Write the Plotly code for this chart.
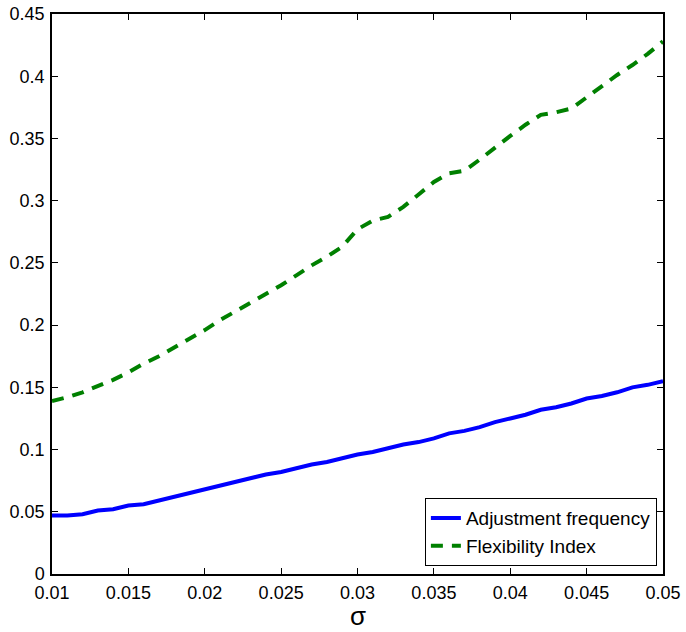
import plotly.graph_objects as go

# sigma grid
sigma = [0.010, 0.011, 0.012, 0.013, 0.014, 0.015, 0.016, 0.017, 0.018, 0.019,
         0.020, 0.021, 0.022, 0.023, 0.024, 0.025, 0.026, 0.027, 0.028, 0.029,
         0.030, 0.031, 0.032, 0.033, 0.034, 0.035, 0.036, 0.037, 0.038, 0.039,
         0.040, 0.041, 0.042, 0.043, 0.044, 0.045, 0.046, 0.047, 0.048, 0.049,
         0.050]

adjustment_frequency = [0.047, 0.047, 0.048, 0.051, 0.052, 0.055, 0.056, 0.059, 0.062, 0.065,
                        0.068, 0.071, 0.074, 0.077, 0.080, 0.082, 0.085, 0.088, 0.090, 0.093,
                        0.096, 0.098, 0.101, 0.104, 0.106, 0.109, 0.113, 0.115, 0.118, 0.122,
                        0.125, 0.128, 0.132, 0.134, 0.137, 0.141, 0.143, 0.146, 0.150, 0.152,
                        0.155]

flexibility_index = [0.139, 0.142, 0.146, 0.151, 0.156, 0.162, 0.169, 0.175, 0.182, 0.189,
                     0.196, 0.204, 0.211, 0.218, 0.225, 0.232, 0.240, 0.248, 0.255, 0.263,
                     0.277, 0.284, 0.287, 0.295, 0.305, 0.315, 0.322, 0.324, 0.333, 0.343,
                     0.352, 0.361, 0.369, 0.371, 0.374, 0.383, 0.392, 0.401, 0.409, 0.418,
                     0.428]

x_ticks = [0.01, 0.015, 0.02, 0.025, 0.03, 0.035, 0.04, 0.045, 0.05]
x_tick_text = ["0.01", "0.015", "0.02", "0.025", "0.03", "0.035", "0.04", "0.045", "0.05"]
y_ticks = [0, 0.05, 0.1, 0.15, 0.2, 0.25, 0.3, 0.35, 0.4, 0.45]
y_tick_text = ["0", "0.05", "0.1", "0.15", "0.2", "0.25", "0.3", "0.35", "0.4", "0.45"]
x_label = "σ"

font_family = "Liberation Sans, Arial, sans-serif"

fig = go.Figure()
fig.add_trace(go.Scatter(
    x=sigma, y=adjustment_frequency, mode="lines",
    name="Adjustment frequency",
    line=dict(color="#0000FF", width=4),
))
fig.add_trace(go.Scatter(
    x=sigma, y=flexibility_index, mode="lines",
    name="Flexibility Index",
    line=dict(color="#008000", width=4, dash="12px,9px"),
))

axis_common = dict(
    showgrid=False, zeroline=False, automargin=False,
    showline=True, linecolor="black", linewidth=1.5,
    mirror="ticks", ticks="inside", ticklen=6, tickwidth=1, tickcolor="black",
    tickfont=dict(family=font_family, size=18, color="black"),
)

fig.update_xaxes(
    range=[0.01, 0.05], tickvals=x_ticks, ticktext=x_tick_text,
    ticklabelstandoff=2,
    **axis_common,
)
fig.update_yaxes(
    range=[0, 0.45], tickvals=y_ticks, ticktext=y_tick_text,
    ticklabelstandoff=2,
    **axis_common,
)

# x-axis label placed below the tick labels
fig.add_annotation(
    text=x_label, xref="paper", yref="paper", x=0.5, y=-0.1036,
    xanchor="center", yanchor="bottom", showarrow=False,
    font=dict(family=font_family, size=26, color="black"),
    borderpad=0,
)

fig.update_layout(
    width=686, height=632,
    margin=dict(l=52, r=23, t=14, b=58),
    paper_bgcolor="white", plot_bgcolor="white",
    showlegend=True,
    legend=dict(
        x=0.99, y=0.014, xanchor="right", yanchor="bottom",
        bgcolor="white", bordercolor="black", borderwidth=1,
        font=dict(family=font_family, size=19, color="black"),
        tracegroupgap=0,
    ),
)

fig.write_html("out.html")
